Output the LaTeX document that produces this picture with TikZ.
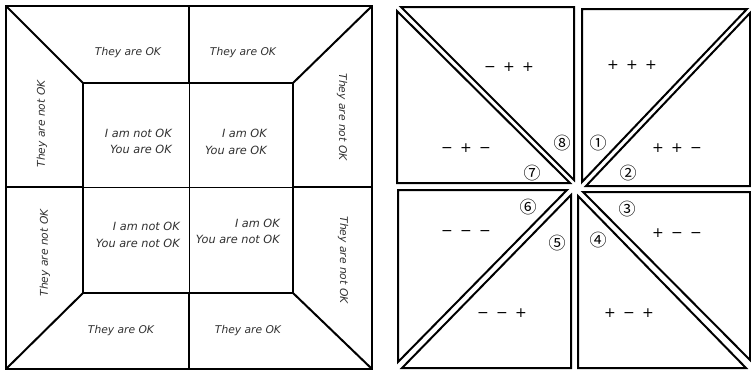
\documentclass[tikz,border=0pt]{standalone}
\usepackage{fontspec}
\setmainfont{DejaVu Sans}
\newfontfamily\signfont{DejaVu Sans}[WordSpace=1.65]
\newfontfamily\jpfont{Noto Sans CJK JP}
\usepackage{xcolor}
\definecolor{okgray}{HTML}{303030}

\begin{document}
\begin{tikzpicture}[x=1pt,y=-1pt,
  lbl/.style={font=\fontsize{10.7}{13}\selectfont\itshape,text=okgray,inner sep=0pt},
  mid/.style={font=\fontsize{11.3}{16.5}\selectfont\itshape,text=okgray,inner sep=0pt,align=right,anchor=east},
  tri/.style={line width=2pt},
  sgn/.style={font=\signfont\fontsize{14}{16}\selectfont,inner sep=0pt},
  num/.style={font=\jpfont\fontsize{17}{19}\selectfont,inner sep=0pt}]
\useasboundingbox (0,0) rectangle (751,372);
\draw[line width=2.5pt] (6,6) rectangle (372,369);
\draw[line width=2pt] (83,83) rectangle (293,293);
\draw[line width=2pt] (6,6)--(83,83) (372,6)--(293,83) (6,369)--(83,293) (372,369)--(293,293);
\draw[line width=2.5pt] (189,6)--(189,83) (189,293)--(189,369) (6,187)--(83,187) (293,187)--(372,187);
\draw[line width=1pt] (189,83)--(189,293) (83,187)--(293,187);
\node[lbl] (topl) at (128,53) {They are OK};
\node[lbl] (topr) at (243,53) {They are OK};
\node[lbl] (botl) at (121,331) {They are OK};
\node[lbl] (botr) at (248,331) {They are OK};
\node[lbl,rotate=90] (leftu) at (42,124) {They are not OK};
\node[lbl,rotate=90] (leftd) at (45,253) {They are not OK};
\node[lbl,rotate=-90] (rightu) at (342,117) {They are not OK};
\node[lbl,rotate=-90] (rightd) at (343,260) {They are not OK};
\node[mid] (inyo) at (172,141.5) {I am not OK\\You are OK};
\node[mid] (iyo) at (267,142) {I am OK\\You are OK};
\node[mid] (inyn) at (180,235) {I am not OK\\You are not OK};
\node[mid] (iyn) at (280,231.5) {I am OK\\You are not OK};
\draw[tri] (401,7)--(574,7)--(574,180)--cycle;
\draw[tri] (397,11)--(397,183)--(570,183)--cycle;
\draw[tri] (582,9)--(747,9)--(582,182)--cycle;
\draw[tri] (750,13)--(750,186)--(586,186)--cycle;
\draw[tri] (583,192)--(750,192)--(750,360)--cycle;
\draw[tri] (578,196)--(578,368)--(746,368)--cycle;
\draw[tri] (571,195)--(571,368)--(402,368)--cycle;
\draw[tri] (398,190)--(567,190)--(398,362)--cycle;
\foreach \n/\x/\y/\t in {1/632/65/{+ + +},2/677/148/{+ + −},3/677/233/{+ − −},4/629/313/{+ − +},
  5/502/313/{− − +},6/466/233/{− − −},7/466/148/{− + −},8/509/67/{− + +}}
  \node[sgn] (s\n) at (\x,\y) {\t};
\foreach \n/\x/\y/\t in {1/598/143/①,2/628/173/②,3/627/209/③,4/598/240/④,
  5/557/243/⑤,6/528/207/⑥,7/532/173/⑦,8/562/143/⑧}
  \node[num] (n\n) at (\x,\y) {\t};
\end{tikzpicture}
\end{document}
